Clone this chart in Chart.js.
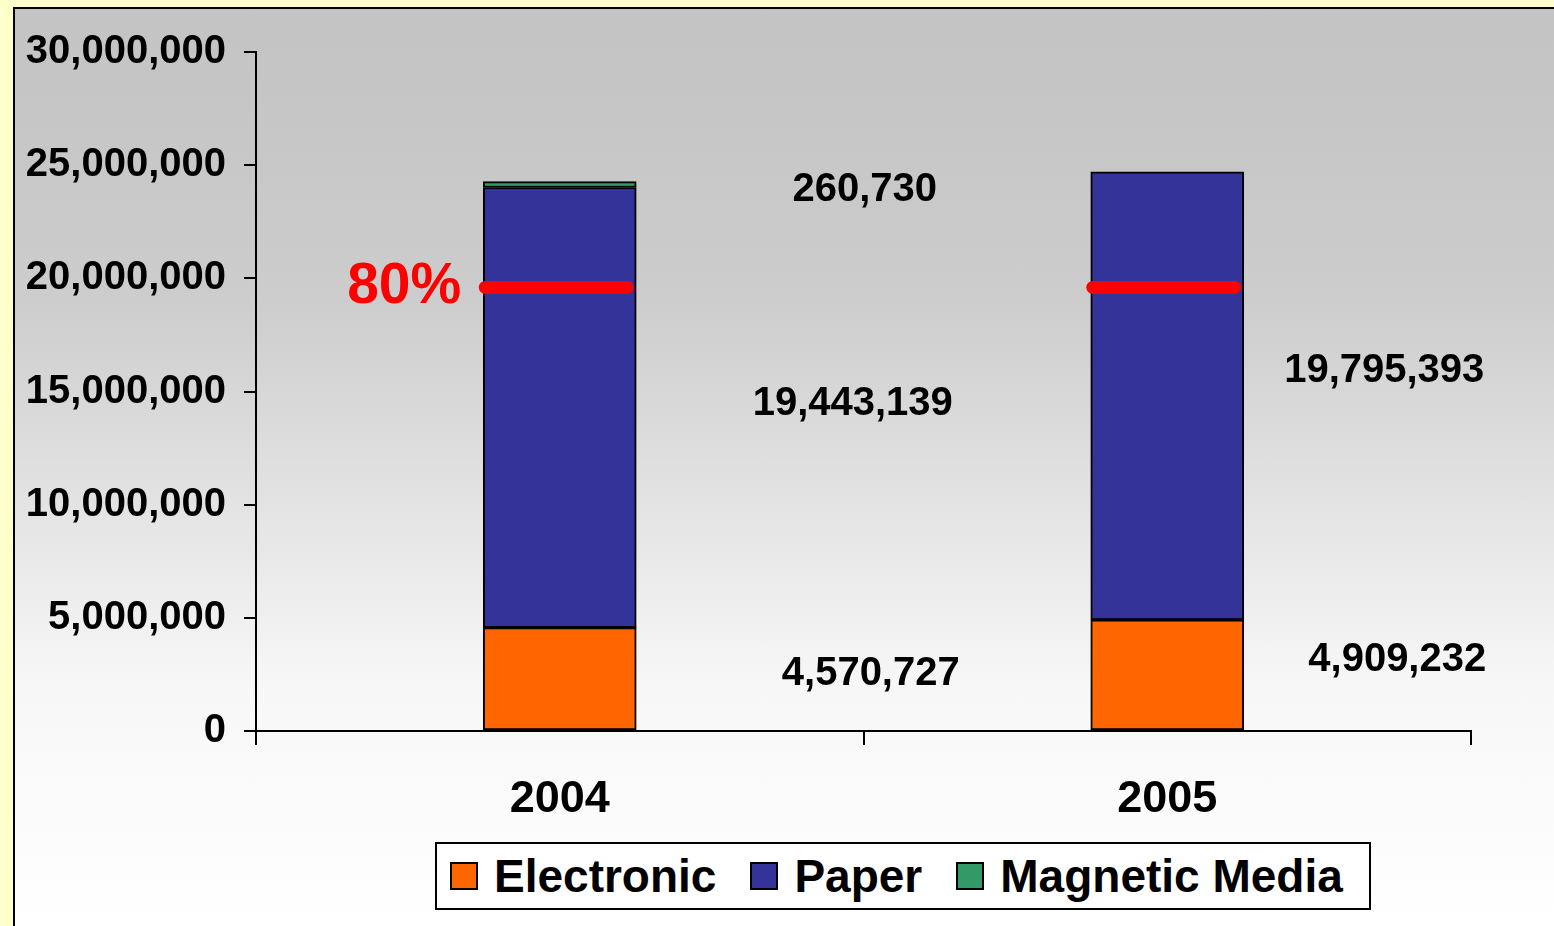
<!DOCTYPE html>
<html>
<head>
<meta charset="utf-8">
<script src="https://cdn.jsdelivr.net/npm/chart.js@4.4.1/dist/chart.umd.min.js"></script>
<style>
  html, body { margin: 0; padding: 0; width: 1554px; height: 926px; overflow: hidden; background: #FFFFCC; }
  #panel {
    position: absolute; left: 13px; top: 7px; width: 1541px; height: 919px;
    box-sizing: border-box; border-left: 2px solid #000; border-top: 2px solid #000;
    background: linear-gradient(to bottom, #C4C4C4 0%, #C6C6C6 12%, #CDCDCD 32%, #F7F7F7 74%, #FFFFFF 100%);
  }
  #chart { position: absolute; left: 0; top: 0; }
  #legend {
    position: absolute; left: 435px; top: 842px; width: 936px; height: 68px;
    box-sizing: border-box; border: 2px solid #000; background: #fff;
    display: flex; align-items: center; padding-left: 13px; white-space: nowrap;
    font-family: 'Liberation Sans', Arial, sans-serif; font-weight: bold; font-size: 46px; color: #000;
  }
  .item { display: flex; align-items: center; margin-right: 34px; flex: none; }
  .swatch { width: 28px; height: 28px; box-sizing: border-box; border: 2px solid #000; margin-right: 16px; }
</style>
</head>
<body>
<div id="panel"></div>
<canvas id="chart" width="1554" height="926"></canvas>
<div id="legend"></div>
<script>
const years = ['2004', '2005'];
const electronic = [4570727, 4909232];
const paper = [19443139, 19795393];
const magnetic = [260730, null];
const markerValue = 19600000;
const markerText = '80%';
const yTicks = [0, 5000000, 10000000, 15000000, 20000000, 25000000, 30000000];

// label offsets from the segment centre (dx, dy), per series and year
const labelOffsets = [
    [[311, -5], [230, -15]],
    [[293, -4], [217, -25]],
    [[305, 5], [0, 0]]
];

const FONT = "'Liberation Sans', Arial, sans-serif";

const segmentLabels = {
    id: 'segmentLabels',
    afterDatasetsDraw(chart) {
        const ctx = chart.ctx;
        ctx.save();
        ctx.font = 'bold 40px ' + FONT;
        ctx.fillStyle = '#000';
        ctx.textAlign = 'center';
        ctx.textBaseline = 'middle';
        chart.data.datasets.forEach((ds, di) => {
            chart.getDatasetMeta(di).data.forEach((bar, i) => {
                const v = ds.data[i];
                if (v == null) return;
                const off = labelOffsets[di][i];
                const mid = (bar.y + bar.base) / 2;
                ctx.fillText(v.toLocaleString('en-US'), bar.x + off[0], mid + off[1]);
            });
        });

        // red 80% marker lines
        const yPix = chart.scales.y.getPixelForValue(markerValue);
        ctx.strokeStyle = '#FF0000';
        ctx.lineWidth = 13;
        ctx.lineCap = 'round';
        chart.getDatasetMeta(1).data.forEach(bar => {
            const half = bar.width / 2;
            ctx.beginPath();
            ctx.moveTo(bar.x - half + 2, yPix);
            ctx.lineTo(bar.x + half - 9, yPix);
            ctx.stroke();
        });
        const first = chart.getDatasetMeta(1).data[0];
        ctx.fillStyle = '#FF0000';
        ctx.font = 'bold 57px ' + FONT;
        ctx.textAlign = 'right';
        ctx.fillText(markerText, first.x - first.width / 2 - 22, yPix);
        ctx.restore();
    }
};

const datasets = [
    { label: 'Electronic', data: electronic, backgroundColor: '#FF6600' },
    { label: 'Paper', data: paper, backgroundColor: '#333399' },
    { label: 'Magnetic Media', data: magnetic, backgroundColor: '#339966' }
].map(d => Object.assign(d, { borderColor: '#000', borderWidth: 2, borderSkipped: false, barThickness: 153 }));

new Chart(document.getElementById('chart'), {
    type: 'bar',
    data: { labels: years, datasets: datasets },
    plugins: [segmentLabels],
    options: {
        responsive: false,
        animation: false,
        layout: { padding: { left: 0, right: 83, top: 52, bottom: 95 } },
        plugins: { legend: { display: false }, tooltip: { enabled: false } },
        scales: {
            x: {
                stacked: true,
                afterFit: s => { s.height = 100; },
                grid: { offset: true, drawOnChartArea: false, drawTicks: true, tickLength: 14, color: '#000', lineWidth: 2 },
                border: { color: '#000', width: 2 },
                ticks: { color: '#000', font: { family: FONT, size: 45, weight: 'bold' }, padding: 28 }
            },
            y: {
                stacked: true,
                min: 0,
                max: 30000000,
                afterFit: s => { s.width = 256; },
                afterBuildTicks: s => { s.ticks = yTicks.map(v => ({ value: v })); },
                grid: { drawOnChartArea: false, drawTicks: true, tickLength: 12, color: '#000', lineWidth: 2 },
                border: { color: '#000', width: 2 },
                ticks: {
                    color: '#000',
                    font: { family: FONT, size: 40, weight: 'bold' },
                    padding: 18,
                    callback: v => v.toLocaleString('en-US')
                }
            }
        }
    }
});

// legend box
const legend = document.getElementById('legend');
datasets.forEach(d => {
    const item = document.createElement('div');
    item.className = 'item';
    const sw = document.createElement('span');
    sw.className = 'swatch';
    sw.style.background = d.backgroundColor;
    const txt = document.createElement('span');
    txt.textContent = d.label;
    item.appendChild(sw);
    item.appendChild(txt);
    legend.appendChild(item);
});
</script>
</body>
</html>
